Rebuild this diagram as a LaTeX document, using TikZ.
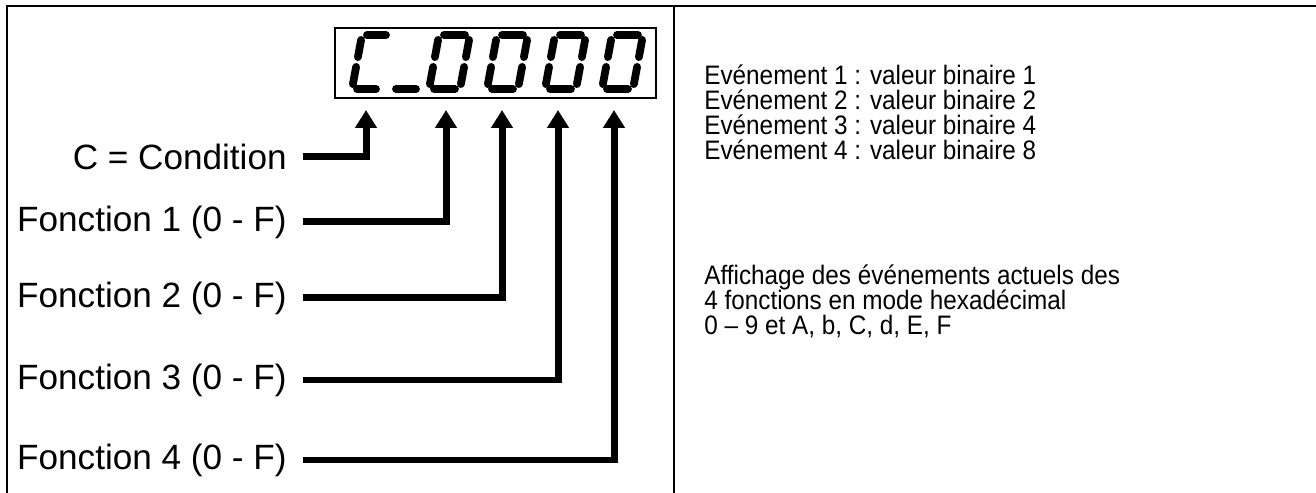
\documentclass[tikz,border=0pt]{standalone}
\usepackage{fontspec}
\setmainfont{Liberation Sans}
\newfontfamily\narrowfont[FakeStretch=0.91]{Liberation Sans}
\usetikzlibrary{arrows.meta}

\begin{document}
\begin{tikzpicture}[x=0.02cm, y=-0.02cm,
  lbl/.style={anchor=east, inner sep=0pt, font=\fontsize{20}{24}\selectfont},
  note/.style={anchor=base west, inner sep=0pt, font=\narrowfont\fontsize{15.2}{17}\selectfont},
  feed/.style={line width=0.14cm, -{Triangle[length=0.36cm, width=0.42cm]}},
  seg/.style={line width=0.155cm, line cap=round, shorten <=0.1cm, shorten >=0.1cm}]
\useasboundingbox (0,0) rectangle (1316,493);
\draw[line width=0.04cm] (7,493) -- (7,6) -- (1316,6);
\draw[line width=0.04cm] (674,6) -- (674,493);
\draw[line width=0.03cm] (335,28) rectangle (656,98);
\draw[seg] (362,35) -- (391,35);
\draw[seg] (362,35) -- (357,62);
\draw[seg] (357,62) -- (352,89);
\draw[seg] (352,89) -- (381,89);
\draw[seg] (391,89) -- (421,89);
\foreach \x in {429,487,545,602} {
  \draw[seg] (\x+10,35) -- (\x+41,35);
  \draw[seg] (\x+41,35) -- (\x+36,62);
  \draw[seg] (\x+36,62) -- (\x+31,89);
  \draw[seg] (\x+31,89) -- (\x,89);
  \draw[seg] (\x,89) -- (\x+5,62);
  \draw[seg] (\x+5,62) -- (\x+10,35);
}
\coordinate (tipC) at (366,110);
\coordinate (tipA) at (446,110);
\coordinate (tipB) at (502,110);
\coordinate (tipD) at (558,110);
\coordinate (tipE) at (614,110);
\node[lbl] (cond) at (287,157) {C = Condition};
\node[lbl] (fct1) at (287,222) {Fonction 1 (0 - F)};
\node[lbl] (fct2) at (287,298) {Fonction 2 (0 - F)};
\node[lbl] (fct3) at (287,380) {Fonction 3 (0 - F)};
\node[lbl] (fct4) at (287,460) {Fonction 4 (0 - F)};
\draw[feed] ([xshift=0.32cm]cond.east) -| (tipC);
\draw[feed] ([xshift=0.32cm]fct1.east) -| (tipA);
\draw[feed] ([xshift=0.32cm]fct2.east) -| (tipB);
\draw[feed] ([xshift=0.32cm]fct3.east) -| (tipD);
\draw[feed] ([xshift=0.32cm]fct4.east) -| (tipE);
\node[note] (ev1) at (704,85) {Evénement 1 : valeur binaire 1};
\node[note] (ev2) at (704,110) {Evénement 2 : valeur binaire 2};
\node[note] (ev3) at (704,135) {Evénement 3 : valeur binaire 4};
\node[note] (ev4) at (704,160) {Evénement 4 : valeur binaire 8};
\node[note] (hex1) at (704,285) {Affichage des événements actuels des};
\node[note] (hex2) at (704,310) {4 fonctions en mode hexadécimal};
\node[note] (hex3) at (704,335) {0 – 9 et A, b, C, d, E, F};
\end{tikzpicture}
\end{document}
